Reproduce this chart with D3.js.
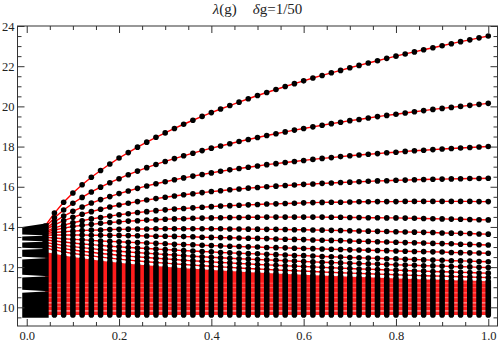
<!DOCTYPE html>
<html lang="en">
<head>
<meta charset="UTF-8">
<title>lambda(g)</title>
<script src="https://cdn.jsdelivr.net/npm/d3@7/dist/d3.min.js"></script>
<style>
	body { margin: 0; background: #fff; }
	text { font-family: "Liberation Serif", "DejaVu Serif", serif; }
</style>
</head>
<body>
<script type="text/javascript">

	// columns g = 0.04 ... 1.00, step 1/50
	var gSteps = d3.range(2, 51).map(function(k) { return k / 50; });

	// the separated eigenvalue curves, one value per column (g = 0.04 .. 1.00)
	var lam1 = [14.05,14.69,15.23,15.69,16.10,16.47,16.81,17.13,17.43,17.70,17.97,18.22,18.46,18.68,18.90,19.11,19.31,19.50,19.69,19.87,20.04,20.21,20.38,20.54,20.69,20.84,20.99,21.13,21.27,21.41,21.54,21.67,21.79,21.92,22.04,22.16,22.27,22.39,22.50,22.61,22.71,22.82,22.92,23.02,23.12,23.22,23.31,23.41,23.50];
	var lam2 = [13.98,14.46,14.84,15.18,15.47,15.74,15.98,16.20,16.40,16.60,16.78,16.95,17.11,17.26,17.40,17.54,17.67,17.80,17.92,18.03,18.14,18.25,18.35,18.45,18.55,18.64,18.73,18.82,18.90,18.98,19.06,19.14,19.21,19.29,19.35,19.42,19.49,19.55,19.61,19.67,19.73,19.79,19.85,19.90,19.95,20.00,20.05,20.10,20.15];
	var lam3 = [13.90,14.25,14.54,14.78,14.99,15.19,15.36,15.51,15.66,15.79,15.92,16.04,16.15,16.25,16.35,16.44,16.53,16.61,16.69,16.77,16.84,16.91,16.97,17.03,17.10,17.15,17.21,17.26,17.31,17.36,17.41,17.45,17.50,17.54,17.58,17.62,17.65,17.69,17.72,17.76,17.79,17.82,17.85,17.88,17.90,17.93,17.95,17.98,18.00];
	var lam4 = [13.85,14.10,14.31,14.48,14.63,14.76,14.88,14.99,15.09,15.18,15.26,15.34,15.41,15.48,15.54,15.60,15.65,15.71,15.76,15.80,15.85,15.89,15.93,15.96,16.00,16.03,16.06,16.09,16.12,16.14,16.17,16.19,16.21,16.23,16.25,16.27,16.29,16.30,16.32,16.33,16.35,16.36,16.37,16.38,16.39,16.40,16.41,16.41,16.42];
	var lam5 = [13.77,13.95,14.09,14.21,14.31,14.40,14.47,14.54,14.61,14.66,14.72,14.76,14.81,14.85,14.89,14.92,14.95,14.98,15.01,15.04,15.06,15.08,15.10,15.12,15.14,15.15,15.17,15.18,15.20,15.21,15.22,15.23,15.23,15.24,15.25,15.25,15.26,15.26,15.26,15.27,15.27,15.27,15.27,15.27,15.27,15.27,15.27,15.26,15.26];
	var lam6 = [13.73,13.85,13.94,14.02,14.08,14.13,14.18,14.22,14.25,14.29,14.31,14.34,14.36,14.38,14.40,14.41,14.43,14.44,14.45,14.46,14.47,14.47,14.48,14.48,14.49,14.49,14.49,14.49,14.49,14.49,14.49,14.48,14.48,14.47,14.47,14.46,14.46,14.45,14.45,14.44,14.43,14.42,14.41,14.40,14.39,14.38,14.37,14.36,14.35];
	var lam7 = [13.67,13.72,13.76,13.79,13.82,13.84,13.85,13.87,13.88,13.89,13.90,13.90,13.91,13.91,13.91,13.91,13.91,13.91,13.91,13.91,13.90,13.90,13.89,13.89,13.88,13.88,13.87,13.86,13.86,13.85,13.84,13.83,13.82,13.81,13.80,13.79,13.78,13.77,13.76,13.75,13.74,13.73,13.72,13.70,13.69,13.68,13.67,13.65,13.64];
	var lam8 = [13.59,13.60,13.60,13.60,13.60,13.59,13.59,13.58,13.58,13.57,13.56,13.55,13.54,13.54,13.53,13.52,13.51,13.49,13.48,13.47,13.46,13.45,13.44,13.43,13.42,13.40,13.39,13.38,13.37,13.35,13.34,13.33,13.32,13.30,13.29,13.28,13.26,13.25,13.24,13.22,13.21,13.20,13.18,13.17,13.16,13.14,13.13,13.11,13.10];
	var lam9 = [13.49,13.45,13.41,13.38,13.36,13.33,13.30,13.28,13.26,13.24,13.22,13.20,13.18,13.16,13.14,13.12,13.11,13.09,13.07,13.06,13.04,13.03,13.01,13.00,12.98,12.97,12.96,12.94,12.93,12.92,12.90,12.89,12.88,12.86,12.85,12.84,12.83,12.82,12.80,12.79,12.78,12.77,12.76,12.75,12.73,12.72,12.71,12.70,12.69];
	var lam10 = [13.36,13.30,13.25,13.20,13.15,13.12,13.08,13.04,13.01,12.98,12.95,12.93,12.90,12.87,12.85,12.82,12.80,12.78,12.76,12.73,12.71,12.69,12.67,12.66,12.64,12.62,12.60,12.58,12.57,12.55,12.53,12.52,12.50,12.48,12.47,12.45,12.44,12.42,12.41,12.39,12.38,12.36,12.35,12.34,12.32,12.31,12.30,12.28,12.27];
	var lam11 = [13.23,13.15,13.08,13.02,12.97,12.92,12.87,12.83,12.79,12.75,12.72,12.69,12.66,12.63,12.60,12.57,12.54,12.52,12.49,12.47,12.44,12.42,12.40,12.38,12.36,12.34,12.32,12.30,12.28,12.26,12.24,12.23,12.21,12.19,12.18,12.16,12.15,12.13,12.12,12.10,12.09,12.07,12.06,12.05,12.03,12.02,12.01,11.99,11.98];
	var lam12 = [13.10,13.00,12.92,12.85,12.79,12.74,12.68,12.64,12.59,12.55,12.51,12.48,12.44,12.41,12.38,12.34,12.31,12.29,12.26,12.23,12.21,12.18,12.16,12.13,12.11,12.09,12.07,12.05,12.03,12.01,11.99,11.97,11.95,11.93,11.91,11.90,11.88,11.86,11.85,11.83,11.81,11.80,11.78,11.77,11.76,11.74,11.73,11.71,11.70];
	var lam13 = [12.96,12.85,12.76,12.68,12.62,12.56,12.50,12.45,12.40,12.35,12.31,12.27,12.23,12.20,12.16,12.13,12.10,12.07,12.04,12.01,11.99,11.96,11.93,11.91,11.89,11.86,11.84,11.82,11.80,11.78,11.76,11.74,11.72,11.70,11.69,11.67,11.65,11.64,11.62,11.60,11.59,11.57,11.56,11.55,11.53,11.52,11.51,11.49,11.48];
	var curves = [lam1, lam2, lam3, lam4, lam5, lam6, lam7, lam8, lam9, lam10, lam11, lam12, lam13];

	// the dense lower band: top of the merged dots per column (g = 0.04 .. 1.00), and its floor
	var bandTop = [12.75,12.67,12.58,12.50,12.44,12.38,12.32,12.27,12.22,12.17,12.13,12.09,12.05,12.02,11.98,11.95,11.92,11.89,11.86,11.83,11.81,11.78,11.75,11.73,11.71,11.68,11.66,11.64,11.62,11.60,11.58,11.56,11.54,11.52,11.51,11.49,11.47,11.46,11.44,11.42,11.41,11.39,11.38,11.37,11.35,11.34,11.33,11.31,11.30];
	var bandFloor = 9.62;
	// light streaks between the joined lines of the band
	var bandGaps = [9.82, 10.05, 10.22, 10.48, 10.72, 10.98, 11.2];
	var bandGapOpacity = [0.85, 0.35, 0.7, 0.35, 0.4, 0.3, 0.3];

	// g = 0 ... 0.04: clusters of levels [low, high at g=0, low, high at g=0.04]
	var leftClusters = [
		[13.62, 14.00, 13.57, 14.20],
		[13.32, 13.52, 13.27, 13.57],
		[12.97, 13.22, 12.92, 13.27],
		[12.52, 12.87, 12.45, 12.92],
		[11.62, 12.38, 11.55, 12.45],
		[10.87, 11.48, 10.80, 11.55],
		[9.48, 10.73, 9.48, 10.80]
	];

	// ticks
	var xMajor = [0, 0.2, 0.4, 0.6, 0.8, 1.0];
	var xMinor = [0.05, 0.1, 0.15, 0.25, 0.3, 0.35, 0.45, 0.5, 0.55, 0.65, 0.7, 0.75, 0.85, 0.9, 0.95];
	var yMajor = [10, 12, 14, 16, 18, 20, 22, 24];
	var yMinor = [9.5, 10.5, 11, 11.5, 12.5, 13, 13.5, 14.5, 15, 15.5, 16.5, 17, 17.5, 18.5, 19, 19.5, 20.5, 21, 21.5, 22.5, 23, 23.5];

	var width = 499;
	var height = 343;
	var frame = { left: 17.5, right: 497.5, top: 26, bottom: 326 };

	var svg = d3.select("body")
				.append("svg")
				.attr("width", width)
				.attr("height", height);

	var x = d3.scaleLinear().domain([-0.02, 1.02]).range([frame.left, frame.right]);
	var y = d3.scaleLinear().domain([9.07, 24]).range([frame.bottom, frame.top]);

	var plot = svg.append("g");

	// red fill of the dense band (many joined lines)
	var bandArea = d3.area()
					.x(function(d, i) { return x(gSteps[i]); })
					.y0(y(bandFloor))
					.y1(function(d) { return y(d); });
	plot.append("path")
		.datum(bandTop)
		.attr("d", bandArea)
		.attr("fill", "#ff1c1c");

	plot.selectAll("line.gap")
		.data(bandGaps)
		.enter()
		.append("line")
		.attr("class", "gap")
		.attr("x1", x(0.04))
		.attr("x2", x(1))
		.attr("y1", function(d) { return y(d); })
		.attr("y2", function(d) { return y(d); })
		.attr("stroke", "#fff")
		.attr("stroke-opacity", function(d, i) { return bandGapOpacity[i]; })
		.attr("stroke-width", 1);

	// red joining lines of the separated curves
	var line = d3.line()
				.x(function(d, i) { return x(gSteps[i]); })
				.y(function(d) { return y(d); });
	plot.selectAll("path.curve")
		.data(curves)
		.enter()
		.append("path")
		.attr("class", "curve")
		.attr("d", line)
		.attr("fill", "none")
		.attr("stroke", "#ff0000")
		.attr("stroke-width", 1.4);

	// merged black dots of the band, one bar per column
	var r = 2.8;
	plot.selectAll("rect.bar")
		.data(bandTop.slice(1))
		.enter()
		.append("rect")
		.attr("class", "bar")
		.attr("x", function(d, i) { return x(gSteps[i + 1]) - r; })
		.attr("y", function(d) { return y(d) - r; })
		.attr("width", 2 * r)
		.attr("height", function(d) { return y(bandFloor) - y(d) + 2 * r; })
		.attr("rx", r)
		.attr("fill", "#000");

	// black dots on every curve
	curves.forEach(function(c) {
		plot.append("g")
			.selectAll("circle")
			.data(c)
			.enter()
			.append("circle")
			.attr("cx", function(d, i) { return x(gSteps[i]); })
			.attr("cy", function(d) { return y(d); })
			.attr("r", r)
			.attr("fill", "#000");
	});

	// near g = 0 the levels pile up into black blocks
	plot.selectAll("path.cluster")
		.data(leftClusters)
		.enter()
		.append("path")
		.attr("class", "cluster")
		.attr("d", function(d) {
			var x0 = x(0) - 4.5, x1 = x(0.04) + 3.5;
			return "M" + x0 + "," + y(d[0]) + "L" + x0 + "," + y(d[1]) +
				   "L" + x1 + "," + y(d[3]) + "L" + x1 + "," + y(d[2]) + "Z";
		})
		.attr("fill", "#000");

	// frame
	svg.append("rect")
		.attr("x", frame.left)
		.attr("y", frame.top)
		.attr("width", frame.right - frame.left)
		.attr("height", frame.bottom - frame.top)
		.attr("fill", "none")
		.attr("stroke", "#333")
		.attr("stroke-width", 1);

	function drawAxis(axis, tx, ty) {
		var g = svg.append("g")
					.attr("transform", "translate(" + tx + "," + ty + ")")
					.call(axis);
		g.select(".domain").remove();
		g.selectAll("line").attr("stroke", "#333");
		g.selectAll("text")
		 .attr("fill", "#222")
		 .style("font-size", "12.5px")
		 .style("font-family", "'Liberation Serif', serif");
		return g;
	}

	// bottom & left with labels, ticks pointing inward
	drawAxis(d3.axisBottom(x).tickValues(xMajor).tickSize(-7).tickPadding(5)
			.tickFormat(d3.format(".1f")), 0, frame.bottom);
	drawAxis(d3.axisBottom(x).tickValues(xMinor).tickSize(-4).tickFormat(""), 0, frame.bottom);
	drawAxis(d3.axisLeft(y).tickValues(yMajor).tickSize(-7).tickPadding(3)
			.tickFormat(d3.format("d")), frame.left, 0);
	drawAxis(d3.axisLeft(y).tickValues(yMinor).tickSize(-4).tickFormat(""), frame.left, 0);
	// top & right, ticks only
	drawAxis(d3.axisTop(x).tickValues(xMajor).tickSize(-7).tickFormat(""), 0, frame.top);
	drawAxis(d3.axisTop(x).tickValues(xMinor).tickSize(-4).tickFormat(""), 0, frame.top);
	drawAxis(d3.axisRight(y).tickValues(yMajor).tickSize(-7).tickFormat(""), frame.right, 0);
	drawAxis(d3.axisRight(y).tickValues(yMinor).tickSize(-4).tickFormat(""), frame.right, 0);

	// title
	var title = svg.append("text")
				.attr("x", (frame.left + frame.right) / 2)
				.attr("y", 14)
				.attr("text-anchor", "middle")
				.style("font-size", "15px")
				.attr("fill", "#222");
	title.append("tspan").style("font-style", "italic").text("λ");
	title.append("tspan").text("(g)");
	title.append("tspan").attr("dx", 16).style("font-style", "italic").text("δ");
	title.append("tspan").text("g=1/50");

</script>
</body>
</html>
